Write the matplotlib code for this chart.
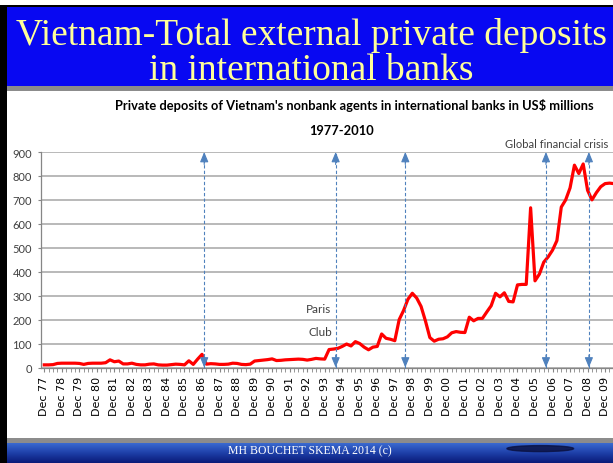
import numpy as np
import matplotlib.pyplot as plt
from matplotlib.patches import Rectangle, Ellipse
from matplotlib.colors import LinearSegmentedColormap

# quarterly deposits, US$ millions, Dec 77 onwards
deposits = [
    11, 11, 12, 17, 18, 18, 18, 18, 17, 13,
    17, 18, 18, 18, 20, 32, 24, 27, 15, 15,
    18, 13, 11, 11, 14, 15, 11, 10, 10, 12,
    14, 13, 11, 28, 13, 35, 55, 14, 16, 15,
    13, 13, 14, 18, 17, 13, 12, 14, 27, 29,
    31, 33, 36, 29, 30, 32, 33, 34, 35, 34,
    31, 34, 38, 36, 35, 75, 77, 80, 88, 98,
    90, 108, 100, 85, 74, 85, 88, 140, 122, 118,
    112, 200, 238, 285, 310, 290, 255, 194, 125, 110,
    118, 120, 128, 145, 150, 147, 146, 210, 195, 205,
    205, 232, 258, 310, 295, 312, 276, 274, 345, 347,
    347, 667, 362, 390, 440, 462, 490, 530, 670, 700,
    750, 845, 810, 850, 740, 700, 730, 755, 768, 770,
    768,
]

year_labels = ['Dec 77', 'Dec 78', 'Dec 79', 'Dec 80', 'Dec 81', 'Dec 82',
               'Dec 83', 'Dec 84', 'Dec 85', 'Dec 86', 'Dec 87', 'Dec 88',
               'Dec 89', 'Dec 90', 'Dec 91', 'Dec 92', 'Dec 93', 'Dec 94',
               'Dec 95', 'Dec 96', 'Dec 97', 'Dec 98', 'Dec 99', 'Dec 00',
               'Dec 01', 'Dec 02', 'Dec 03', 'Dec 04', 'Dec 05', 'Dec 06',
               'Dec 07', 'Dec 08', 'Dec 09']

# quarter positions of the event markers
events = [36.5, 66.5, 82.4, 114.5, 124.3]

W, H = 613, 464
fig = plt.figure(figsize=(W / 100, H / 100), dpi=100)


def box(x0, y0, x1, y1):
    # pixel box (top-left origin) -> figure fraction rect
    return (x0 / W, 1 - y1 / H), (x1 - x0) / W, (y1 - y0) / H


def rect(x0, y0, x1, y1, color):
    xy, w, h = box(x0, y0, x1, y1)
    fig.add_artist(Rectangle(xy, w, h, transform=fig.transFigure,
                             color=color, lw=0, zorder=0))


# slide frame
rect(0, 6, 7, H, 'black')
rect(0, 6, W, 8, 'black')
rect(7, 8, W, 87, '#0808F2')
rect(7, 87, W, 92, '#8C8C8C')
rect(7, 439, W, 444, '#8C8C8C')

# footer gradient bar
xy, w, h = box(7, 444, W, H)
fax = fig.add_axes([xy[0], xy[1], w, h])
grad = np.linspace(0, 1, 50).reshape(-1, 1)
cmap = LinearSegmentedColormap.from_list('bar', ['#3A6AD0', '#1E3FA8', '#0A1A78'])
fax.imshow(grad, aspect='auto', cmap=cmap, extent=[0, 1, 0, 1])
fax.add_patch(Ellipse((0.88, 0.72), 0.11, 0.3, color='#0A1040', alpha=0.8))
fax.set_xlim(0, 1)
fax.set_ylim(0, 1)
fax.axis('off')
fig.text(310 / W, 1 - 451 / H, 'MH BOUCHET SKEMA 2014 (c)', ha='center',
         va='center', color='white', fontsize=8.5, family='Liberation Serif')

# slide title
fig.text(311 / W, 1 - 45 / H, 'Vietnam-Total external private deposits',
         ha='center', va='baseline', color='#FFFF99', fontsize=27,
         family='Liberation Serif')
fig.text(311 / W, 1 - 80 / H, 'in international banks',
         ha='center', va='baseline', color='#FFFF99', fontsize=27,
         family='Liberation Serif')

# chart title
fig.text(354 / W, 1 - 106 / H,
         "Private deposits of Vietnam's nonbank agents in international banks in US$ millions",
         ha='center', va='center', fontsize=9.3, fontweight='bold', family='Lato')
fig.text(342 / W, 1 - 131 / H, '1977-2010', ha='center', va='center',
         fontsize=9.3, fontweight='bold', family='Lato')

ax = fig.add_axes([41 / W, 1 - 368.5 / H, (620 - 41) / W, (368.5 - 153) / H])
q = np.arange(len(deposits))
ax.plot(q, deposits, color='#FF0000', lw=2.3, solid_joinstyle='round', zorder=3)

ax.set_xlim(-0.75, 131.4)
ax.set_ylim(0, 900)
ax.set_yticks(range(0, 901, 100))
ax.set_xticks(range(0, 4 * len(year_labels), 4))
ax.set_xticklabels(year_labels, rotation=90, fontsize=8, family='DejaVu Sans')
ax.set_xticks(q, minor=True)
ax.tick_params(axis='x', which='both', length=3, color='#868686', pad=3)
ax.tick_params(axis='y', length=2.5, color='#868686', pad=4, labelsize=8,
               labelcolor='#404040')
for lab in ax.get_yticklabels():
    lab.set_family('Lato')

ax.yaxis.grid(True, color='#A6A6A6', lw=1.1)
ax.set_axisbelow(True)
for s in ['top', 'right']:
    ax.spines[s].set_visible(False)
for s in ['left', 'bottom']:
    ax.spines[s].set_color('#868686')
    ax.spines[s].set_linewidth(0.9)

# dashed double-headed event markers
arrow_col = '#4F81BD'
for e in events:
    ax.plot([e, e], [0, 900], color=arrow_col, lw=0.8, ls=(0, (3, 2)),
            clip_on=False, zorder=4)
    for y, off in [(900, -9), (0, 9)]:
        ax.annotate('', xy=(e, y), xytext=(0, off), textcoords='offset points',
                    arrowprops=dict(arrowstyle='-|>,head_length=0.6,head_width=0.25',
                                    color=arrow_col, lw=0.8, shrinkA=0, shrinkB=0),
                    annotation_clip=False, zorder=4)

ax.text(62.6, 246, 'Paris', ha='center', va='center', fontsize=8.5,
        family='Lato', color='#404040')
ax.text(63, 149, 'Club', ha='center', va='center', fontsize=8.5,
        family='Lato', color='#404040')
ax.text(128.7, 934, 'Global financial crisis', ha='right', va='center',
        fontsize=8, family='Lato', color='#404040', clip_on=False)

fig.savefig('out.png', dpi=100)
